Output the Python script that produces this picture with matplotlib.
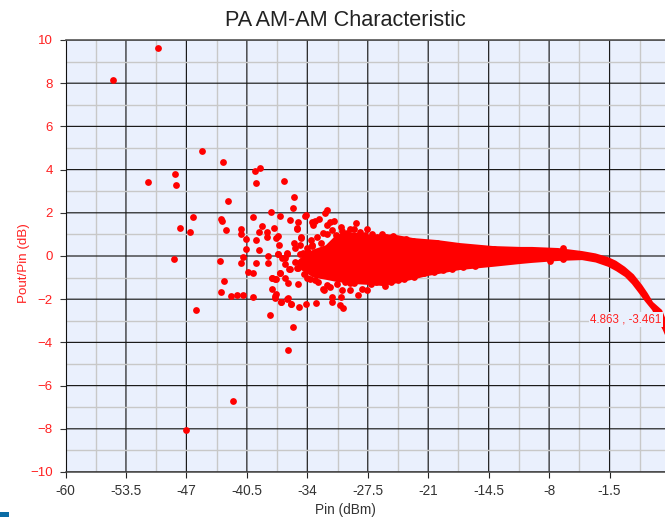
import matplotlib
matplotlib.use('Agg')
import matplotlib.pyplot as plt
from matplotlib.patches import Rectangle

plt.rcParams['font.family'] = ['Liberation Sans', 'DejaVu Sans']

x_ticks = [-60, -53.5, -47, -40.5, -34, -27.5, -21, -14.5, -8, -1.5]
x_tick_labels = ['-60', '-53.5', '-47', '-40.5', '-34', '-27.5', '-21', '-14.5', '-8', '-1.5']
x_minor = [-56.75, -50.25, -43.75, -37.25, -30.75, -24.25, -17.75, -11.25, -4.75, 1.75]
y_ticks = [-10, -8, -6, -4, -2, 0, 2, 4, 6, 8, 10]
y_minor = [-9, -7, -5, -3, -1, 1, 3, 5, 7, 9]

# scattered points, low power side
pin_left = [-54.9, -50.05, -51.13, -48.23, -48.16, -45.29, -43.1, -46.32, -47.66, -46.58,
            -48.37, -47, -45.97, -41.99, -39.66, -39.05, -39.52, -36.54, -42.56, -35.43,
            -35.54, -37.94, -36.94, -43.28, -43.14, -39.88, -35.86, -34.97, -34.21, -38.9,
            -35.15, -42.78, -41.17, -41.17, -39.2, -38.3, -38.33, -37.62, -37.12, -37.37,
            -40.56, -39.48, -37.08, -34.64, -40.6, -39.16, -37.19, -38.26, -43.35, -40.88,
            -41.1, -39.52, -38.23, -36.76, -36.4, -36.15, -35.93, -36.97, -40.34, -39.88,
            -37.76, -37.4, -43, -43.25, -37.83, -42.2, -41.53, -40.95, -39.88, -37.37,
            -37.48, -36.83, -36.15, -35.79, -38.05, -35.57, -36.08]
gain_left = [8.17, 9.63, 3.43, 3.8, 3.31, 4.85, 4.33, 1.82, 1.28, 1.13,
             -0.13, -8.05, -2.48, -6.71, 3.93, 4.09, 3.39, 3.49, 2.56, 2.73,
             2.22, 2.02, 1.84, 1.70, 1.62, 1.79, 1.65, 1.57, 1.87, 1.40,
             1.23, 1.19, 1.27, 1.0, 1.13, 1.1, 0.86, 1.28, 0.94, 0.82,
             0.8, 0.72, 0.51, 0.85, 0.32, 0.26, 0.08, 0.0, -0.22, -0.05,
             -0.34, -0.34, -0.31, -0.11, -0.36, 0.09, -0.6, -0.77, -0.76, -0.77,
             -1.02, -1.08, -1.16, -1.65, -1.53, -1.87, -1.81, -1.82, -1.88, -1.76,
             -1.96, -2.15, -1.98, -2.24, -2.72, -3.27, -4.35]

# points around the edge of the dense cloud
pin_edge = [-34.17, -31.84, -32.1, -35.14, -33.53, -33.17, -32.74, -33.35, -31.92, -31.56,
            -31.13, -30.38, -28.76, -32.27, -31.38, -29.41, -27.62, -26, -34.64, -35.43,
            -33.53, -34.78, -34.07, -35.3, -34.43, -36.2, -37.2, -35.3, -36.4, -35.86,
            -36.94, -34.96, -37.83, -37.47, -36.4, -36.04, -34.96, -34.07, -33.17, -32.27,
            -31.85, -31.31, -31.31, -30.38, -30.48, -30.2, -30.3, -29.41, -29.41, -28.51,
            -25.7, -27.62, -34.9, -34.17, -33.1, -35.79, -36.11, -36.83, -37.47, -32.2,
            -24.78, -6.5, -6.5, -7.9]
gain_edge = [1.88, 2.13, 1.98, 1.28, 1.59, 1.64, 1.71, 1.44, 1.44, 1.59,
             1.64, 1.36, 1.54, 1.05, 1.2, 1.24, 1.24, 1.02, 0.87, 0.62,
             0.46, 0.51, 0.36, 0.36, 0.12, 0.12, 0.09, -0.26, -0.11, -0.62,
             -0.77, -0.57, -1.03, -1.06, -1.03, -1.26, -1.3, -1.03, -1.11, -1.54,
             -1.34, -1.88, -2.11, -1.91, -2.27, -2.42, -1.57, -1.26, -1.57, -1.8,
             -1.37, -1.57, -2.35, -2.22, -2.19, -2.22, -1.96, -2.11, -1.85, -1.56,
             0.93, 0.38, -0.15, -0.22]

# rough top and bottom of the cloud
pin_rough_top = [-33.6, -33, -32.5, -31.9, -30.9, -30.3, -29.7, -29, -28.3, -27.8, -27, -26.5, -25.5, -25,
                 -24.2, -23.4, -22.6, -21.8, -20.9, -20.1, -19.2, -18.3, -17.2, -16.2, -15, -13.9, -12.6,
                 -34.8, -33.9, -33.5]
gain_rough_top = [0.75, 0.9, 0.6, 1.0, 0.95, 1.15, 1.05, 1.25, 1.1, 0.95, 1.0, 0.9, 0.88, 0.82,
                  0.8, 0.78, 0.68, 0.62, 0.55, 0.6, 0.5, 0.45, 0.42, 0.38, 0.33, 0.33, 0.28,
                  0.1, 0.2, 0.5]
pin_rough_low = [-34.4, -33.7, -32.9, -31.6, -30.8, -29.9, -29, -28.1, -27.2, -26.6, -25.8, -25, -24.3, -23.6,
                 -22.5, -21.4, -20.4, -19.4, -18.4, -17.3, -16, -34.6, -34.3, -35.1]
gain_rough_low = [-0.85, -1.05, -1.2, -1.45, -1.3, -1.2, -1.25, -1.55, -1.3, -1.2, -1.25, -1.2, -1.1, -1.05,
                  -0.95, -0.8, -0.72, -0.65, -0.6, -0.52, -0.45, -0.3, -0.5, -0.55]

# dense part read as upper and lower outline
pin_upper = [-35, -34.5, -33.35, -32, -30.84, -29, -27.26, -24.78, -22.6, -20.06, -17.6, -14, -11.1,
             -9.84, -7.04, -4.46, -3, -1.66, -0.8, 0.16, 1.1, 2, 2.6, 3.17, 4.14, 4.6]
gain_upper = [-0.2, 0.0, 0.3, 0.5, 1.0, 1.1, 0.97, 1.0, 0.83, 0.74, 0.6, 0.46, 0.42,
              0.42, 0.37, 0.23, 0.12, -0.05, -0.22, -0.5, -0.85, -1.34, -1.72, -2.13, -2.5, -3.0]
pin_lower = [-35, -34.5, -33.35, -32, -30.84, -29, -27.26, -25.85, -23.7, -21.1, -17.6, -14, -11.1,
             -9.84, -7.04, -4.46, -3, -1.66, -0.8, 0.16, 0.9, 1.56, 2.3, 3.06, 4.2, 4.6]
gain_lower = [-0.5, -0.7, -1.0, -1.1, -1.2, -1.3, -1.34, -1.39, -1.2, -0.93, -0.65, -0.5, -0.37,
              -0.32, -0.23, -0.19, -0.3, -0.5, -0.7, -0.97, -1.3, -1.67, -2.1, -2.5, -3.4, -3.8]

fig = plt.figure(figsize=(6.65, 5.17), dpi=100)
ax = fig.add_axes([65.5 / 665, 1 - 472 / 517, (665 - 65.5) / 665, 432 / 517])
ax.set_facecolor('#eaf0fd')
ax.set_xlim(-60, 4.46)
ax.set_ylim(-10, 10)

ax.set_xticks(x_ticks)
ax.set_xticklabels(x_tick_labels)
ax.set_yticks(y_ticks)
ax.set_xticks(x_minor, minor=True)
ax.set_yticks(y_minor, minor=True)

ax.grid(which='minor', color='#c8c8c8', lw=1.0, zorder=1)
ax.grid(which='major', color='#1a1a1a', lw=0.85, zorder=1)
for line in ax.get_xgridlines() + ax.get_ygridlines():
    line.set_snap(False)
ax.set_axisbelow(True)

ax.tick_params(which='minor', length=0)
ax.tick_params(axis='x', which='major', length=4.5, width=0.8, color='#222222',
               labelsize=9.8, labelcolor='#333333', pad=4)
ax.tick_params(axis='y', which='major', length=4, width=0.8, color='#333333',
               labelsize=9.5, labelcolor='#ff2020', pad=5)

ax.spines['right'].set_visible(False)
ax.spines['top'].set_color('#555555')
ax.spines['bottom'].set_color('#444444')
ax.spines['left'].set_color('#111111')
ax.spines['top'].set_linewidth(1.2)
ax.spines['bottom'].set_linewidth(1.1)

ax.fill(pin_upper + pin_lower[::-1], gain_upper + gain_lower[::-1], color='#ff0000', lw=0, zorder=3)
ax.scatter(pin_left, gain_left, s=24, color='#ff0000', linewidths=0, zorder=3)
ax.scatter(pin_edge, gain_edge, s=24, color='#ff0000', linewidths=0, zorder=3)
ax.scatter(pin_rough_top, gain_rough_top, s=24, color='#ff0000', linewidths=0, zorder=3)
ax.scatter(pin_rough_low, gain_rough_low, s=24, color='#ff0000', linewidths=0, zorder=3)

ax.text(4.1, -2.93, '4.863 , -3.461', color='#ff2020', fontsize=8.3, ha='right', va='center', zorder=5,
        bbox=dict(facecolor='#eaf0fd', edgecolor='none', pad=1.2))

fig.text(345.5 / 665, 1 - 21 / 517, 'PA AM-AM Characteristic', fontsize=15.6, color='#222222',
         ha='center', va='center')
fig.text(345 / 665, 1 - 510 / 517, 'Pin (dBm)', fontsize=9.8, color='#333333', ha='center', va='center')
fig.text(24 / 665, 1 - 263 / 517, 'Pout/Pin (dB)', fontsize=9.6, color='#ff2020', rotation=90,
         ha='center', va='center')

# little blue block in the corner
fig.add_artist(Rectangle((0, 0), 9 / 665, 5 / 517, transform=fig.transFigure, color='#0a6ca5', lw=0))

plt.savefig('out.png', dpi=100)
